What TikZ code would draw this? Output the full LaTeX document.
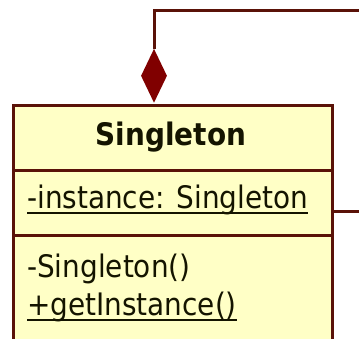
\documentclass[tikz,border=0pt]{standalone}
\usepackage{fontspec}
\setmainfont{DejaVu Sans Condensed}
\usetikzlibrary{shapes.geometric}
\definecolor{umlline}{HTML}{5A1208}
\definecolor{umlfill}{HTML}{FFFFC6}
\definecolor{aggred}{HTML}{800000}
\definecolor{umltext}{HTML}{141400}
\tikzset{
  umlborder/.style={draw=umlline, line width=3},
  member/.style={anchor=base west, inner sep=0, text=umltext,
    font=\fontsize{31}{31}\selectfont},
  underl/.style={draw=umltext, line width=2},
}
\begin{document}
\begin{tikzpicture}[x=1pt,y=-1pt]
\useasboundingbox (0,0) rectangle (359,338);
\fill[white] (0,0) rectangle (359,338);
% class box (continues below the lower edge)
\node[umlborder, fill=umlfill, rectangle, inner sep=0, minimum width=319,
  minimum height=260, anchor=north west] (cls) at (12,104) {};
\draw[umlborder] (12,170) -- (331,170);
\draw[umlborder] (12,235) -- (331,235);
% composition diamond on top of the class
\node[diamond, fill=aggred, inner sep=0, minimum width=26, minimum height=54,
  anchor=south] (agg) at (154,103) {};
% self association running off the page
\coordinate (loopcorner) at (154,10);
\coordinate (loopend) at (370,10);
\coordinate (selfstart) at (331,211);
\coordinate (selfend) at (370,211);
\draw[umlborder] (agg.north) -- (loopcorner) -- (loopend);
\draw[umlborder] (selfstart) -- (selfend);
% texts
\node[anchor=base, inner sep=0, text=umltext,
  font=\bfseries\fontsize{31}{31}\selectfont] (title) at (171,145) {Singleton};
\node[member] (attr) at (27,208) {-instance: Singleton};
\draw[underl] ([yshift=-5]attr.base west) -- ([yshift=-5]attr.base east);
\node[member] (op1) at (27,277) {-Singleton()};
\node[member] (op2) at (27,315) {+getInstance()};
\draw[underl] ([yshift=-5]op2.base west) -- ([yshift=-5]op2.base east);
\end{tikzpicture}
\end{document}
